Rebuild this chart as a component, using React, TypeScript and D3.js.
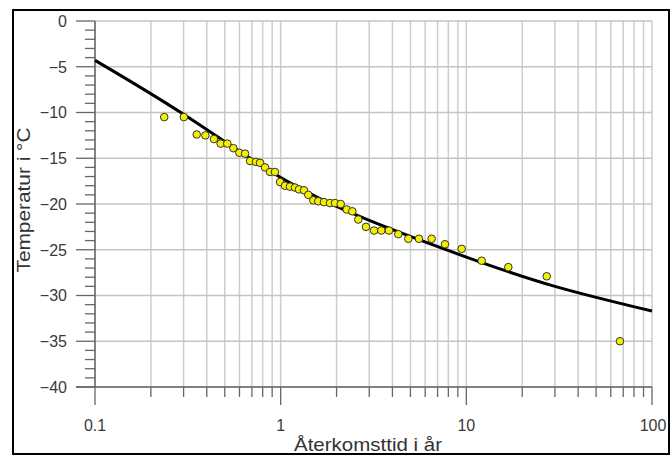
import { useEffect, useRef } from "react";
import * as d3 from "d3";

// return period (years) and observed temperature
const returnPeriods = [0.236, 0.301, 0.353, 0.393, 0.437, 0.475, 0.516, 0.556, 0.599, 0.643, 0.684, 0.736, 0.774, 0.824, 0.876, 0.932, 0.992, 1.055, 1.122, 1.194, 1.255, 1.336, 1.409, 1.499, 1.594, 1.711, 1.843, 1.962, 2.105, 2.268, 2.431, 2.618, 2.881, 3.183, 3.484, 3.832, 4.301, 4.868, 5.556, 6.505, 7.674, 9.438, 12.1, 16.83, 27.1, 67.2];
const temperatures = [-10.5, -10.5, -12.4, -12.5, -12.9, -13.4, -13.4, -13.9, -14.4, -14.5, -15.3, -15.4, -15.5, -16.0, -16.5, -16.5, -17.6, -18.0, -18.1, -18.2, -18.4, -18.5, -19.0, -19.6, -19.7, -19.8, -19.9, -19.9, -20.0, -20.6, -20.8, -21.7, -22.5, -22.9, -22.9, -22.9, -23.3, -23.8, -23.8, -23.8, -24.4, -24.9, -26.2, -26.9, -27.9, -35.0];

// fitted curve
const curvePeriods = [0.1, 0.3, 1, 3, 10, 30, 100];
const curveTemps = [-4.3, -10.2, -17.1, -21.8, -25.8, -29.0, -31.7];

const yTicks = [0, -5, -10, -15, -20, -25, -30, -35, -40];
const xLabels = [0.1, 1, 10, 100];

const font = "'Liberation Sans', Arial, sans-serif";

export default function App() {
  const ref = useRef<SVGSVGElement>(null);

  useEffect(() => {
    const svg = d3.select(ref.current);
    svg.selectAll("*").remove();

    const x = d3.scaleLog().domain([0.1, 100]).range([95, 652]);
    const y = d3.scaleLinear().domain([-40, 0]).range([387, 21]);

    svg.append("rect").attr("width", 672).attr("height", 455).attr("fill", "#fff");
    svg.append("rect")
      .attr("x", 13).attr("y", 10).attr("width", 656).attr("height", 444)
      .attr("fill", "#fff").attr("stroke", "#000").attr("stroke-width", 2);

    // vertical grid
    svg.append("g").selectAll("line")
      .data(x.ticks())
      .join("line")
      .attr("x1", d => x(d)).attr("x2", d => x(d))
      .attr("y1", y(0)).attr("y2", y(-40))
      .attr("stroke", "#cdcdcd").attr("stroke-width", 1.5);

    // horizontal grid
    svg.append("g").selectAll("line")
      .data(yTicks)
      .join("line")
      .attr("x1", x(0.1)).attr("x2", x(100))
      .attr("y1", d => y(d)).attr("y2", d => y(d))
      .attr("stroke", "#c4c4c4").attr("stroke-width", 1.5);

    // y axis
    const ya = svg.append("g");
    ya.append("line").attr("x1", 95).attr("x2", 95).attr("y1", y(0)).attr("y2", y(-40))
      .attr("stroke", "#666").attr("stroke-width", 1.5);
    ya.selectAll(".minor")
      .data(d3.range(-40, 1, 1))
      .join("line")
      .attr("x1", d => (d % 5 === 0 ? 76 : 85)).attr("x2", 95)
      .attr("y1", d => y(d)).attr("y2", d => y(d))
      .attr("stroke", "#666").attr("stroke-width", 1.3);
    ya.selectAll("text")
      .data(yTicks)
      .join("text")
      .attr("x", 67).attr("y", d => y(d)).attr("dy", "0.36em")
      .attr("text-anchor", "end")
      .attr("font-family", font).attr("font-size", 16).attr("fill", "#3a3a3a")
      .text(d => (d < 0 ? "\u2212" + Math.abs(d) : String(d)));

    // x axis
    const xa = svg.append("g");
    xa.append("line").attr("x1", 76).attr("x2", x(100)).attr("y1", y(-40)).attr("y2", y(-40))
      .attr("stroke", "#666").attr("stroke-width", 1.5);
    xa.selectAll("line.t")
      .data(x.ticks())
      .join("line")
      .attr("x1", d => x(d)).attr("x2", d => x(d))
      .attr("y1", y(-40))
      .attr("y2", d => (xLabels.includes(+d.toPrecision(3)) ? 405 : 397))
      .attr("stroke", "#666").attr("stroke-width", 1.3);
    xa.selectAll("text")
      .data(xLabels)
      .join("text")
      .attr("x", d => x(d) + (d === 100 ? 1 : 0)).attr("y", 431)
      .attr("text-anchor", "middle")
      .attr("font-family", font).attr("font-size", 16).attr("fill", "#3a3a3a")
      .text(d => String(d));

    // titles
    svg.append("text")
      .attr("x", 368).attr("y", 451)
      .attr("text-anchor", "middle")
      .attr("font-family", font).attr("font-size", 19).attr("fill", "#333")
      .attr("textLength", 148).attr("lengthAdjust", "spacingAndGlyphs")
      .text("Återkomsttid i år");
    svg.append("text")
      .attr("transform", "translate(30,200) rotate(-90)")
      .attr("text-anchor", "middle")
      .attr("font-family", font).attr("font-size", 19).attr("fill", "#333")
      .attr("textLength", 145).attr("lengthAdjust", "spacingAndGlyphs")
      .text("Temperatur i °C");

    // fitted curve
    const line = d3.line<number>()
      .x((d, i) => x(curvePeriods[i]))
      .y(d => y(d))
      .curve(d3.curveNatural);
    svg.append("path")
      .attr("d", line(curveTemps))
      .attr("fill", "none").attr("stroke", "#000").attr("stroke-width", 3);

    // observations
    svg.append("g").selectAll("circle")
      .data(temperatures)
      .join("circle")
      .attr("cx", (d, i) => x(returnPeriods[i]))
      .attr("cy", d => y(d))
      .attr("r", 3.8)
      .attr("fill", "#f5f000").attr("stroke", "#333").attr("stroke-width", 1);
  }, []);

  return (
    <div style={{ position: "absolute", left: 0, top: 0 }}>
      <svg ref={ref} width={672} height={455} style={{ display: "block" }} />
    </div>
  );
}
